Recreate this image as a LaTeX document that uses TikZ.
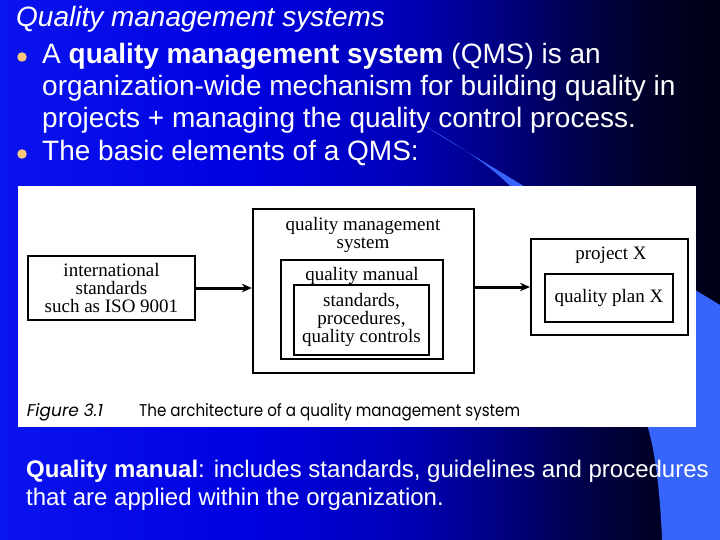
\documentclass[tikz,border=0pt]{standalone}
\usepackage{fontspec}
\setmainfont{Liberation Sans}
\newfontfamily\figserif{Liberation Serif}
\newfontfamily\capfont{Poppins}
\usetikzlibrary{arrows.meta}
\pgfdeclarehorizontalshading{bgshade}{100bp}{rgb(0bp)=(0.039,0.078,0.933); rgb(25bp)=(0.039,0.078,0.933); rgb(42.4bp)=(0,0,0.882); rgb(52.8bp)=(0,0,0.725); rgb(59.7bp)=(0,0,0.51); rgb(65.3bp)=(0,0,0.294); rgb(70.1bp)=(0,0,0.157); rgb(75bp)=(0,0,0.086); rgb(100bp)=(0,0,0.086)}
\definecolor{wedgeblue}{RGB}{55,100,250}
\definecolor{bulletpeach}{RGB}{250,200,125}
\begin{document}
\begin{tikzpicture}[x=1pt,y=-1pt,
  slide/.style={text=white, inner sep=0pt, anchor=base west, font=\fontsize{28}{33}\selectfont},
  lower/.style={text=white, inner sep=0pt, anchor=base west, font=\fontsize{24}{28}\selectfont},
  bulletdot/.style={circle, fill=bulletpeach, minimum size=9.5pt, inner sep=0pt},
  box/.style={draw=black, line width=2.3pt, inner sep=0pt, align=center, font=\figserif\fontsize{19}{18}\selectfont},
  lbl/.style={inner sep=0pt, align=center, font=\figserif\fontsize{19}{18}\selectfont},
  capt/.style={inner sep=0pt, anchor=base west, font=\capfont\fontsize{17}{20}\selectfont},
  arr/.style={line width=3pt, -{Stealth[length=10pt,width=8.5pt]}}
]
\useasboundingbox (0,0) rectangle (720,540);
\shade[shading=bgshade] (0,0) rectangle (720,540);
\fill[wedgeblue] (423,125) -- (720,305) -- (720,540) -- (662,540)
  -- plot[smooth, tension=0.6] coordinates {(662,540) (648,428) (590,300) (510,186) (423,125)} -- cycle;

% slide text
\node[slide, font=\itshape\fontsize{28}{33}\selectfont] (title) at (16,27) {Quality management systems};
\node[bulletdot] (b1) at (22,57) {};
\node[slide] (l1) at (42,64) {A \textbf{quality management system} (QMS) is an};
\node[slide] (l2) at (42,96) {organization-wide mechanism for building quality in};
\node[slide] (l3) at (42,128) {projects + managing the quality control process.};
\node[bulletdot] (b2) at (22,154) {};
\node[slide] (l4) at (42,161) {The basic elements of a QMS:};

% figure panel
\node[fill=white, minimum width=678pt, minimum height=241pt, inner sep=0pt, outer sep=0pt, anchor=north west] (panel) at (18,186) {};

\node[box, minimum width=167pt, minimum height=64pt] (intl) at (111.5,288) {international\\standards\\such as ISO 9001};
\node[box, minimum width=221pt, minimum height=164pt] (qms) at (363.5,291) {};
\node[lbl] (qmslbl) at (363,235) {quality management\\system};
\node[box, line width=2pt, minimum width=162pt, minimum height=99pt] (qman) at (362,309.5) {};
\node[lbl, anchor=base] (qmanlbl) at (362,280) {quality manual};
\node[box, minimum width=135pt, minimum height=70pt] (std) at (361.5,320) {standards,\\procedures,\\quality controls};
\node[box, line width=2pt, minimum width=157pt, minimum height=96pt] (proj) at (609.5,287) {};
\node[lbl, anchor=base] (projlbl) at (611,259) {project X};
\node[box, minimum width=128pt, minimum height=48pt] (plan) at (609,298) {quality plan X};

\draw[arr] (intl.east) -- (intl.east -| qms.west);
\draw[arr] (qms.east |- proj.west) -- (proj.west);

\node[capt, font=\capfont\itshape\fontsize{17}{20}\selectfont] (figno) at (26.7,416.7) {Figure 3.1};
\node[capt] (figcap) at (139,416.7) {\scalebox{0.89}[1]{The architecture of a quality management system}};

% lower text
\node[lower] (m1) at (26,477) {\textbf{Quality manual}: includes standards, guidelines and procedures};
\node[lower] (m2) at (26,505) {that are applied within the organization.};
\end{tikzpicture}
\end{document}
